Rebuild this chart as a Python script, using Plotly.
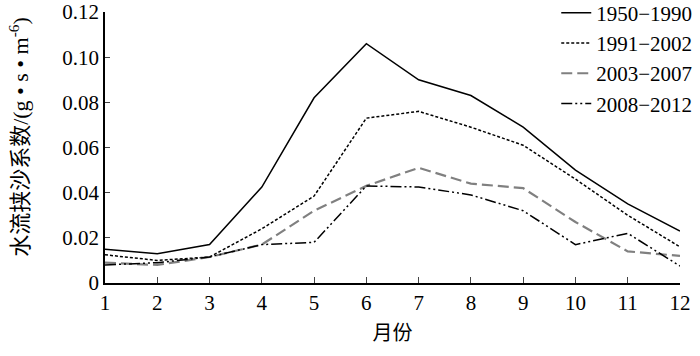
import plotly.graph_objects as go

months = list(range(1, 13))
s1950_1990 = [0.015, 0.013, 0.017, 0.0425, 0.082, 0.106, 0.090, 0.083, 0.069, 0.050, 0.035, 0.023]
s1991_2002 = [0.0125, 0.010, 0.0115, 0.024, 0.0385, 0.073, 0.076, 0.069, 0.061, 0.046, 0.030, 0.016]
s2003_2007 = [0.009, 0.008, 0.0115, 0.017, 0.032, 0.043, 0.051, 0.044, 0.042, 0.027, 0.014, 0.012]
s2008_2012 = [0.008, 0.009, 0.0115, 0.017, 0.018, 0.043, 0.0425, 0.039, 0.032, 0.017, 0.022, 0.0075]
names = ["1950\u22121990", "1991\u22122002", "2003\u22122007", "2008\u22122012"]
ytick_vals = [0, 0.02, 0.04, 0.06, 0.08, 0.10, 0.12]
ytick_text = ["0", "0.02", "0.04", "0.06", "0.08", "0.10", "0.12"]
y_title = "水流挟沙系数/(g • s • m<sup>-6</sup>)"
x_title = "月份"

styles = [
    dict(color="black", width=1.5, dash="solid"),
    dict(color="black", width=1.5, dash="3px,2px"),
    dict(color="#808080", width=2.2, dash="11px,5px"),
    dict(color="black", width=1.5, dash="11px,3px,2px,3px,2px,3px"),
]

fig = go.Figure()
for name, ys, st in zip(names, [s1950_1990, s1991_2002, s2003_2007, s2008_2012], styles):
    fig.add_trace(go.Scatter(x=months, y=ys, mode="lines", name=name, line=st))

serif = "Liberation Serif"
mixed = "Liberation Serif, Noto Sans CJK SC"
fig.update_layout(
    width=700, height=356,
    margin=dict(l=105, r=20, t=12, b=73, autoexpand=False),
    paper_bgcolor="white", plot_bgcolor="white",
    font=dict(family=serif, size=21, color="black"),
    showlegend=True,
    legend=dict(x=1.03, y=1.072, xanchor="right", yanchor="top",
                bgcolor="rgba(0,0,0,0)", font=dict(family=serif, size=21), tracegroupgap=0),
    xaxis=dict(range=[1, 12], tickvals=months, ticks="inside", ticklen=6,
               showline=True, linecolor="black", linewidth=1.5, showgrid=False,
               zeroline=False, automargin=False,
               tickfont=dict(family=serif, size=21),
               title=dict(text=x_title, standoff=12,
                          font=dict(family=mixed, size=20))),
    yaxis=dict(range=[0, 0.12], tickvals=ytick_vals, ticktext=ytick_text,
               ticks="inside", ticklen=5,
               showline=True, linecolor="black", linewidth=1.5, showgrid=False,
               zeroline=False, automargin=False,
               tickfont=dict(family=serif, size=21)),
    annotations=[dict(text=y_title, textangle=-90, xref="paper", yref="paper",
                      x=-0.151, y=0.54, xanchor="center", yanchor="middle",
                      showarrow=False, font=dict(family=mixed, size=22))],
)
fig.write_html("out.html", config={"displayModeBar": False},
               post_script="document.body.style.margin='0';")
